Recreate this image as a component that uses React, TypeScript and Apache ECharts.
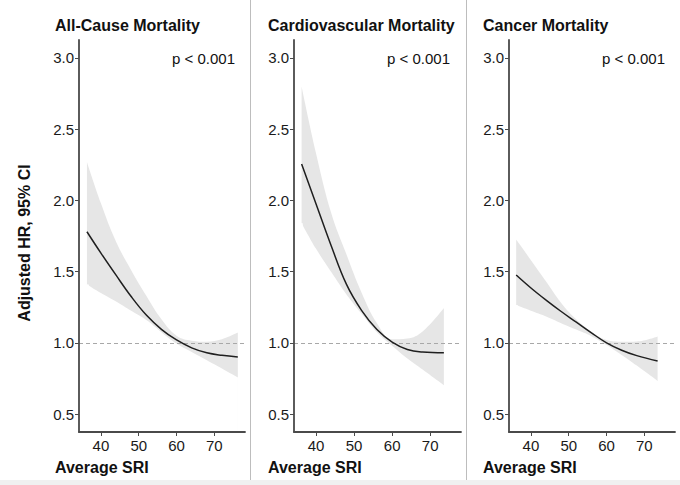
import React, { useEffect, useRef } from 'react';
import * as echarts from 'echarts';

// ---- Texts ----
const PANEL_TITLES = ['All-Cause Mortality', 'Cardiovascular Mortality', 'Cancer Mortality'];
const P_LABEL = 'p < 0.001';
const X_TITLE = 'Average SRI';
const Y_TITLE = 'Adjusted HR, 95% CI';

// ---- Axes / ticks ----
const X_TICKS = [40, 50, 60, 70];
const Y_TICKS = [0.5, 1.0, 1.5, 2.0, 2.5, 3.0];
const X_MIN = 34.2;
const X_MAX = 78.1;
const Y_MIN = 0.374;
const Y_MAX = 3.126;
const REF_HR = 1;

// ---- All-cause mortality ----
const allX = [36.3, 40, 44, 48, 52, 56, 60, 64, 68, 72, 76.2];
const allFit = [1.78, 1.63, 1.475, 1.325, 1.195, 1.095, 1.02, 0.965, 0.93, 0.912, 0.9];
const allUpper = [2.27, 1.98, 1.71, 1.51, 1.33, 1.165, 1.05, 1.015, 1.008, 1.025, 1.072];
const allLower = [1.41, 1.35, 1.29, 1.225, 1.16, 1.075, 0.995, 0.935, 0.878, 0.82, 0.757];

// ---- Cardiovascular mortality ----
const cvX = [36.2, 40, 44, 48, 52, 56, 60, 64, 68, 73.6];
const cvFit = [2.255, 1.975, 1.68, 1.41, 1.226, 1.093, 1.005, 0.953, 0.935, 0.93];
const cvUpper = [2.8, 2.33, 1.91, 1.62, 1.35, 1.138, 1.025, 1.03, 1.08, 1.245];
const cvLower = [1.84, 1.66, 1.497, 1.34, 1.204, 1.075, 0.98, 0.89, 0.813, 0.703];

// ---- Cancer mortality ----
const caX = [36.1, 40, 44, 48, 52, 56, 60, 64, 68, 73.5];
const caFit = [1.476, 1.385, 1.3, 1.22, 1.145, 1.07, 1.0, 0.948, 0.91, 0.872];
const caUpper = [1.725, 1.58, 1.43, 1.28, 1.164, 1.078, 1.02, 1.008, 1.01, 1.045];
const caLower = [1.265, 1.225, 1.185, 1.138, 1.093, 1.047, 0.985, 0.915, 0.84, 0.732];

const PANELS = [
  { x: allX, fit: allFit, upper: allUpper, lower: allLower },
  { x: cvX, fit: cvFit, upper: cvUpper, lower: cvLower },
  { x: caX, fit: caFit, upper: caUpper, lower: caLower },
];

const FONT = '"Liberation Sans", Arial, Helvetica, sans-serif';
const GRID_LEFTS = [79, 294, 509];
const GRID_WIDTHS = [166, 167, 166];
const TITLE_LEFTS = [55, 268, 483];
const P_RIGHTS = [235, 450, 665];

export default function App() {
  const ref = useRef<HTMLDivElement>(null);

  useEffect(() => {
    if (!ref.current) return;
    const chart = echarts.init(ref.current, undefined, { renderer: 'svg' });

    const axisLineStyle = { color: '#4a4a4a', width: 1.8 };
    const tickLineStyle = { color: '#4a4a4a', width: 1 };

    const grids = PANELS.map((_, i) => ({
      left: GRID_LEFTS[i],
      top: 40,
      width: GRID_WIDTHS[i],
      height: 392,
      containLabel: false,
      outerBoundsMode: 'none',
    }));

    const xAxes = PANELS.map((_, i) => ({
      gridIndex: i,
      type: 'value',
      min: X_MIN,
      max: X_MAX,
      z: 10,
      splitLine: { show: false },
      axisLine: { show: true, onZero: false, lineStyle: axisLineStyle },
      axisTick: { show: true, length: 4, customValues: X_TICKS, lineStyle: tickLineStyle },
      axisLabel: {
        customValues: X_TICKS,
        fontSize: 15,
        color: '#1a1a1a',
        margin: 6,
        fontFamily: FONT,
      },
    }));

    const yAxes = PANELS.map((_, i) => ({
      gridIndex: i,
      type: 'value',
      min: Y_MIN,
      max: Y_MAX,
      z: 10,
      splitLine: { show: false },
      axisLine: { show: true, onZero: false, lineStyle: axisLineStyle },
      axisTick: { show: true, length: 4, customValues: Y_TICKS, lineStyle: tickLineStyle },
      axisLabel: {
        customValues: Y_TICKS,
        fontSize: 15,
        color: '#1a1a1a',
        margin: 5,
        fontFamily: FONT,
        formatter: (v: number) => v.toFixed(1),
      },
    }));

    const series: any[] = [];
    PANELS.forEach((p, i) => {
      const last = p.x.length - 1;
      // upper CI edge, filled down to the axis minimum in grey
      series.push({
        type: 'line',
        xAxisIndex: i,
        yAxisIndex: i,
        data: p.x.map((x, j) => [x, p.upper[j]]),
        smooth: 0.4,
        symbol: 'none',
        silent: true,
        z: 2,
        lineStyle: { opacity: 0, width: 0 },
        areaStyle: { color: '#e6e6e6', opacity: 1, origin: 'start' },
      });
      // lower CI edge, masks the part below the band with white
      series.push({
        type: 'line',
        xAxisIndex: i,
        yAxisIndex: i,
        data: p.x.map((x, j) => [x, p.lower[j]]),
        smooth: 0.4,
        symbol: 'none',
        silent: true,
        z: 3,
        lineStyle: { opacity: 0, width: 0 },
        areaStyle: { color: '#ffffff', opacity: 1, origin: 'start' },
        markLine: {
          silent: true,
          symbol: 'none',
          label: { show: false },
          lineStyle: { type: 'solid', color: '#ffffff', width: 2.5 },
          data: [
            [{ coord: [p.x[0], Y_MIN] }, { coord: [p.x[0], p.lower[0]] }],
            [{ coord: [p.x[last], Y_MIN] }, { coord: [p.x[last], p.lower[last]] }],
          ],
        },
      });
      // fitted curve + reference line
      series.push({
        type: 'line',
        xAxisIndex: i,
        yAxisIndex: i,
        data: p.x.map((x, j) => [x, p.fit[j]]),
        smooth: 0.4,
        symbol: 'none',
        silent: true,
        z: 5,
        lineStyle: { color: '#1f1f1f', width: 1.5 },
        markLine: {
          silent: true,
          symbol: 'none',
          label: { show: false },
          lineStyle: { type: [4, 3], color: '#a8a8a8', width: 1 },
          data: [{ yAxis: REF_HR }],
        },
      });
    });

    const graphics: any[] = [];
    [250.5, 466.5].forEach((x) => {
      graphics.push({
        type: 'line',
        z: 100,
        shape: { x1: x, y1: 0, x2: x, y2: 485 },
        style: { stroke: '#bdbdbd', lineWidth: 1 },
        silent: true,
      });
    });
    graphics.push({
      type: 'rect',
      z: 100,
      shape: { x: 0, y: 480, width: 680, height: 5 },
      style: { fill: '#f0f0f0' },
      silent: true,
    });
    PANEL_TITLES.forEach((t, i) => {
      graphics.push({
        type: 'text',
        z: 100,
        x: TITLE_LEFTS[i],
        y: 25.5,
        style: {
          text: t,
          fill: '#111',
          fontSize: 16,
          fontWeight: 'bold',
          fontFamily: FONT,
          align: 'left',
          verticalAlign: 'middle',
        },
      });
      graphics.push({
        type: 'text',
        z: 100,
        x: P_RIGHTS[i],
        y: 58,
        style: {
          text: P_LABEL,
          fill: '#111',
          fontSize: 15,
          fontFamily: FONT,
          align: 'right',
          verticalAlign: 'middle',
        },
      });
      graphics.push({
        type: 'text',
        z: 100,
        x: TITLE_LEFTS[i],
        y: 467,
        style: {
          text: X_TITLE,
          fill: '#111',
          fontSize: 16,
          fontWeight: 'bold',
          fontFamily: FONT,
          align: 'left',
          verticalAlign: 'middle',
        },
      });
    });
    graphics.push({
      type: 'text',
      z: 100,
      x: 24,
      y: 243,
      rotation: Math.PI / 2,
      style: {
        text: Y_TITLE,
        fill: '#111',
        fontSize: 16,
        fontWeight: 'bold',
        fontFamily: FONT,
        align: 'center',
        verticalAlign: 'middle',
      },
    });

    chart.setOption({
      animation: false,
      backgroundColor: '#ffffff',
      grid: grids,
      xAxis: xAxes,
      yAxis: yAxes,
      series,
      graphic: graphics,
    });

    return () => chart.dispose();
  }, []);

  return (
    <div
      ref={ref}
      style={{ position: 'absolute', left: 0, top: 0, width: 680, height: 485 }}
    />
  );
}
